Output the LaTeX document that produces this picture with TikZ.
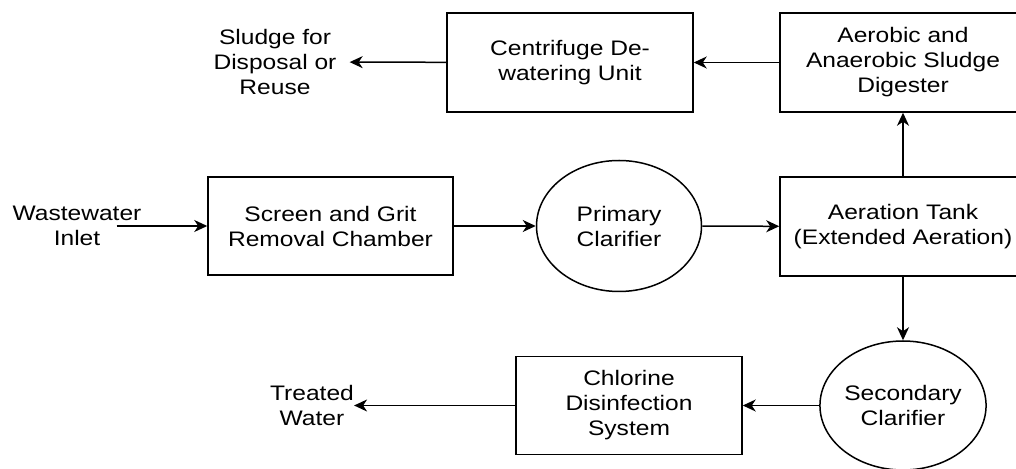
\documentclass[tikz,border=0pt]{standalone}
\usepackage{fontspec}
\setmainfont{Liberation Sans}[FakeStretch=1.17]
\usetikzlibrary{positioning,arrows.meta,shapes.geometric}

\begin{document}
\begin{tikzpicture}[x=1pt, y=1pt,
	every node/.style={font=\fontsize{21}{25}\selectfont},
	unit/.style={draw, line width=1.5pt, minimum width=246pt, minimum height=99pt, align=center, inner sep=0pt},
	tank/.style={draw, ellipse, line width=1.5pt, minimum width=165pt, minimum height=131pt, align=center, inner sep=0pt},
	endtext/.style={align=center, inner sep=0pt},
	flow/.style={-{Stealth[length=13pt, width=12pt, inset=4pt]}, line width=1.5pt}]
\useasboundingbox (0,0) rectangle (1016,468);

						\node[unit] (centrifuge) at (570,405.5) {Centrifuge De-\\watering Unit};
						\node[unit] (digester)   at (903,405.5) {Aerobic and\\Anaerobic Sludge\\Digester};
						\node[unit, minimum width=245pt, minimum height=98pt] (screen) at (330.5,242) {Screen and Grit\\Removal Chamber};
						\node[tank] (primary)    at (619,242) {Primary\\Clarifier};
						\node[unit] (aeration)   at (903,241.5) {Aeration Tank\\(Extended Aeration)};
						\node[tank, minimum height=129pt] (secondary) at (903,62.5) {Secondary\\Clarifier};
						\node[unit, minimum width=226pt, minimum height=98pt] (chlorine) at (629,62.5) {Chlorine\\Disinfection\\System};
						
						\node[endtext] (inlet)   at (77,242) {Wastewater\\Inlet};
						\node[endtext] (sludge)  at (275,406) {Sludge for\\Disposal or\\Reuse};
						\node[endtext] (treated) at (312,62.5) {Treated\\Water};
						
						\draw[flow, shorten <=-25pt] (inlet.east) -- (screen);
						\draw[flow] (screen) -- (primary);
						\draw[flow] (primary) -- (aeration);
						\draw[flow] (aeration) -- (digester);
						\draw[flow] (digester) -- (centrifuge);
						\draw[flow, shorten >=13pt] (centrifuge) -- (sludge);
						\draw[flow] (aeration) -- (secondary);
						\draw[flow] (secondary) -- (chlorine);
						\draw[flow] (chlorine) -- (treated);
\end{tikzpicture}
\end{document}
